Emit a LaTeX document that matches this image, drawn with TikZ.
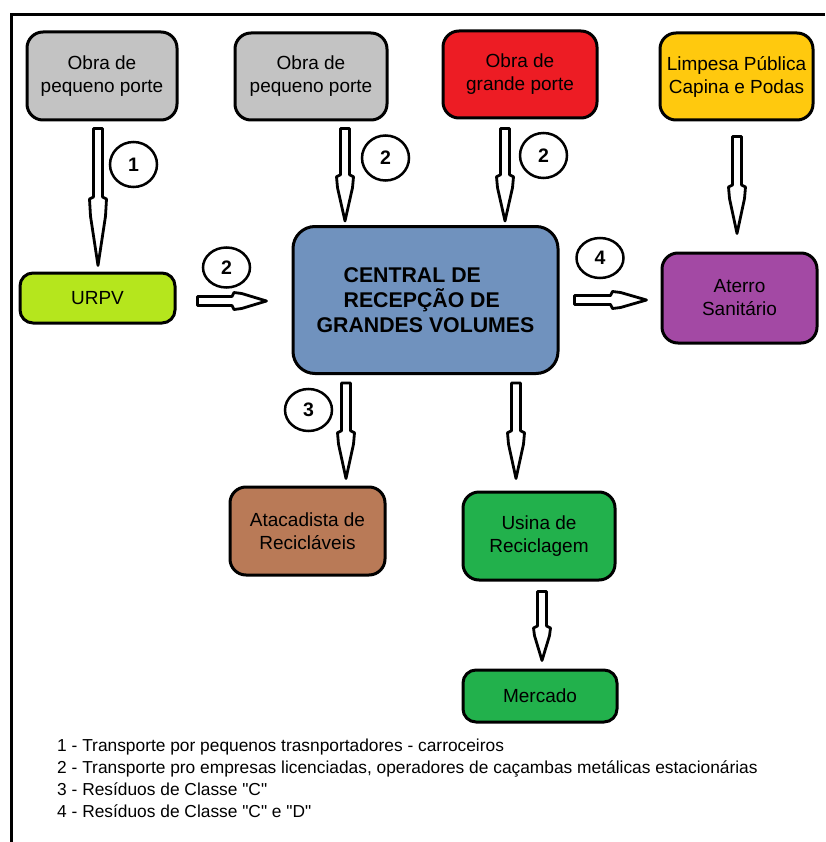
\documentclass[tikz,border=0pt]{standalone}
\usepackage{fontspec}
\setmainfont{Liberation Sans}[Ligatures=TeXOff]
\usetikzlibrary{calc,shapes.geometric}

\definecolor{boxgray}{HTML}{C3C3C3}
\definecolor{boxred}{HTML}{ED1C24}
\definecolor{boxyellow}{HTML}{FFC90E}
\definecolor{boxlime}{HTML}{B5E61D}
\definecolor{boxblue}{HTML}{7092BE}
\definecolor{boxpurple}{HTML}{A349A4}
\definecolor{boxbrown}{HTML}{B97A57}
\definecolor{boxgreen}{HTML}{22B14C}

\tikzset{
  box/.style={draw=black, line width=3pt, rounded corners=16pt, inner sep=0pt,
    align=center, text=black, font=\fontsize{19}{23}\selectfont},
  centralbox/.style={box, rounded corners=22pt, align=left,
    font=\bfseries\fontsize{21.3}{25}\selectfont},
  numcirc/.style={draw=black, ellipse, line width=2.5pt, fill=white, inner sep=0pt,
    font=\bfseries\fontsize{19.5}{20}\selectfont},
  hollow/.style={draw=black, fill=white, line width=2.8pt, line join=round},
  legend/.style={anchor=base west, inner sep=0pt, font=\fontsize{17.35}{20}\selectfont},
  frameline/.style={line width=3pt}
}

% hollow arrow pointing down: x is taken from the start point, y of the tip from #2
\newcommand\vhollow[2]{%
  \draw[hollow] let \p1=(#1), \p2=(#2), \n1={(\y1-\y2)/2} in
    (\x1-4.5pt,\y1) -- (\x1-4.5pt,{\y2+\n1}) -- (\x1-8.5pt,{\y2+\n1-2}) --
    (\x1-7.5pt,{\y2+0.72*\n1}) -- (\x1,\y2) -- (\x1+7.5pt,{\y2+0.72*\n1}) --
    (\x1+8.5pt,{\y2+\n1-2}) -- (\x1+4.5pt,{\y2+\n1}) -- (\x1+4.5pt,\y1) -- cycle;}

% hollow arrow pointing right: y is taken from the start point, x of the tip from #2
\newcommand\hhollow[2]{%
  \draw[hollow] let \p1=(#1), \p2=(#2), \n1={(\x2-\x1)/2} in
    (\x1,\y1+4.5pt) -- ({\x2-\n1},\y1+4.5pt) -- ({\x2-\n1+2},\y1+8.5pt) --
    ({\x2-0.72*\n1},\y1+7.5pt) -- (\x2,\y1) -- ({\x2-0.72*\n1},\y1-7.5pt) --
    ({\x2-\n1+2},\y1-8.5pt) -- ({\x2-\n1},\y1-4.5pt) -- (\x1,\y1-4.5pt) -- cycle;}

\begin{document}
\begin{tikzpicture}[x=1pt, y=-1pt]
  \useasboundingbox[fill=white] (0,0) rectangle (825,842);

  % outer frame (left and top edges)
  \draw[frameline] (11,842) -- (11,15) -- (825,15);

  % sources
  \node[box, fill=boxgray, minimum width=150pt, minimum height=88pt] (obraA) at (102,76) {Obra de\\pequeno porte};
  \node[box, fill=boxgray, minimum width=152pt, minimum height=87pt] (obraB) at (311,76.5) {Obra de\\pequeno porte};
  \node[box, fill=boxred, minimum width=154pt, minimum height=87pt] (obraG) at (520,74.5) {Obra de\\grande porte};
  \node[box, fill=boxyellow, minimum width=153pt, minimum height=87pt] (limpeza) at (736.5,76.5) {Limpesa Pública\\Capina e Podas};

  % middle row
  \node[box, fill=boxlime, rounded corners=13pt, minimum width=155pt, minimum height=50pt] (urpv) at (97.5,298) {URPV};
  \node[centralbox, fill=boxblue, minimum width=265pt, minimum height=147pt] (central) at (425.5,300)
    {\hspace*{27pt}CENTRAL DE\\\hspace*{27pt}RECEPÇÃO DE\\GRANDES VOLUMES};
  \node[box, fill=boxpurple, minimum width=155pt, minimum height=90pt] (aterro) at (739.5,298) {Aterro\\Sanitário};

  % destinations
  \node[box, fill=boxbrown, minimum width=155pt, minimum height=88pt] (atacadista) at (307.5,531) {Atacadista de\\Recicláveis};
  \node[box, fill=boxgreen, minimum width=152pt, minimum height=88pt] (usina) at (539,536) {Usina de\\Reciclagem};
  \node[box, fill=boxgreen, rounded corners=13pt, minimum width=154pt, minimum height=52pt] (mercado) at (540,696) {Mercado};

  % flows
  \vhollow{$(obraA.south)+(-4,7)$}{$(urpv.north)+(0,-6)$}
  \vhollow{$(obraB.south)+(34,7)$}{$(central.north)+(0,-4)$}
  \vhollow{$(obraG.south)+(-15,9)$}{$(central.north)+(0,-4)$}
  \vhollow{$(limpeza.south)+(0.5,15)$}{$(aterro.north)+(0,-18)$}
  \hhollow{$(urpv.east)+(21,3)$}{$(central.west)+(-25,0)$}
  \hhollow{$(central.east)+(15,0)$}{$(aterro.west)+(-14,0)$}
  \vhollow{$(central.south)+(-79.5,8)$}{$(atacadista.north)+(0,-7)$}
  \vhollow{$(central.south)+(90.5,8)$}{$(usina.north)+(0,-12)$}
  \vhollow{$(usina.south)+(3,10)$}{$(mercado.north)+(0,-8)$}

  % flow numbers
  \node[numcirc, minimum width=47pt, minimum height=45pt] (n1) at (133.5,164.5) {1};
  \node[numcirc, minimum width=47pt, minimum height=40pt] (n2a) at (226.5,267.5) {2};
  \node[numcirc, minimum width=47pt, minimum height=45pt] (n2b) at (385.5,158) {2};
  \node[numcirc, minimum width=47pt, minimum height=45pt] (n2c) at (543.5,155.5) {2};
  \node[numcirc, minimum width=47pt, minimum height=42pt] (n3) at (308.5,410) {3};
  \node[numcirc, minimum width=47pt, minimum height=40pt] (n4) at (600,258) {4};

  % key
  \node[legend] (leg1) at (57,751) {1 - Transporte por pequenos trasnportadores - carroceiros};
  \node[legend] (leg2) at (57,773) {2 - Transporte pro empresas licenciadas, operadores de caçambas metálicas estacionárias};
  \node[legend] (leg3) at (57,795) {3 - Resíduos de Classe "C"};
  \node[legend] (leg4) at (57,817) {4 - Resíduos de Classe "C" e "D"};
\end{tikzpicture}
\end{document}
